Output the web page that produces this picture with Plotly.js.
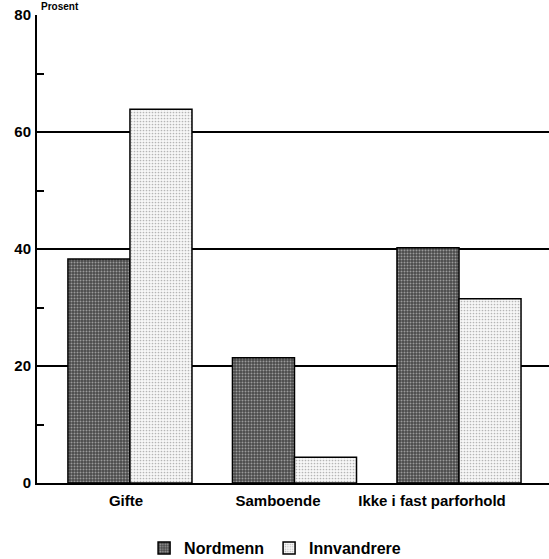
<!DOCTYPE html>
<html>
<head>
<meta charset="utf-8">
<script src="https://cdn.plot.ly/plotly-3.0.1.min.js"></script>
<style>html,body{margin:0;padding:0;background:#fff;}#chart{width:549px;height:559px;}</style>
</head>
<body>
<div id="chart"></div>
<script>
const categories = ["Gifte", "Samboende", "Ikke i fast parforhold"];
const seriesNames = ["Nordmenn", "Innvandrere"];
const nordmenn = [38.3, 21.4, 40.2];
const innvandrere = [63.9, 4.4, 31.5];
const yTickVals = [0, 20, 40, 60, 80];
const yTickText = ["0", "20", "40", "60", "80"];

const FONT = "Liberation Sans, Arial, sans-serif";
const idx = categories.map((c, i) => i);

const traces = [
  {
    type: "bar", name: seriesNames[0], x: idx, y: nordmenn,
    marker: {
      color: "#4e4e4e",
      line: {color: "#000", width: 1.5},
      pattern: {shape: ".", bgcolor: "#4a4a4a", fgcolor: "#9a9a9a", size: 3, solidity: 0.35, fillmode: "replace"}
    },
    hoverinfo: "skip"
  },
  {
    type: "bar", name: seriesNames[1], x: idx, y: innvandrere,
    marker: {
      color: "#f2f2f2",
      line: {color: "#000", width: 1.5},
      pattern: {shape: ".", bgcolor: "#f7f7f7", fgcolor: "#b5b5b5", size: 3, solidity: 0.25, fillmode: "replace"}
    },
    hoverinfo: "skip"
  }
];

const layout = {
  width: 549, height: 559,
  margin: {l: 37, r: 0, t: 15, b: 76, autoexpand: false},
  paper_bgcolor: "#fff", plot_bgcolor: "#fff",
  barmode: "group", bargap: 0.246, bargroupgap: 0,
  font: {family: FONT, size: 15, color: "#000"},
  showlegend: true,
  legend: {
    orientation: "h", x: 0.465, xanchor: "center", y: -0.139, yanchor: "middle",
    font: {family: FONT, size: 16, color: "#000", weight: "bold"},
    itemwidth: 30, tracegroupgap: 0
  },
  xaxis: {
    type: "linear",
    range: [-0.565, 2.547],
    tickmode: "array",
    tickvals: [-0.024, 0.900, 1.836],
    ticktext: categories,
    ticks: "", showgrid: false, zeroline: false,
    showline: true, linecolor: "#000", linewidth: 2,
    tickfont: {family: FONT, size: 15, color: "#000", weight: "bold"},
    ticklabelstandoff: 3, automargin: false,
    fixedrange: true
  },
  yaxis: {
    range: [0, 80],
    tickmode: "array", tickvals: yTickVals, ticktext: yTickText,
    ticks: "", showgrid: true, gridcolor: "#000", gridwidth: 2,
    zeroline: false, showline: true, linecolor: "#000", linewidth: 2,
    tickfont: {family: FONT, size: 15, color: "#000", weight: "bold"},
    ticklabelstandoff: 1, automargin: false,
    minor: {tickvals: [10, 30, 50, 70], ticks: "inside", ticklen: 7, tickwidth: 2, tickcolor: "#000", showgrid: false},
    fixedrange: true
  },
  annotations: [
    {text: "Prosent", xref: "paper", yref: "paper", x: 0.006, y: 1.032, xanchor: "left", yanchor: "top",
     showarrow: false, borderpad: 0, font: {family: FONT, size: 10, color: "#000", weight: "bold"}}
  ]
};

Plotly.newPlot("chart", traces, layout, {displayModeBar: false, staticPlot: true});
</script>
</body>
</html>
